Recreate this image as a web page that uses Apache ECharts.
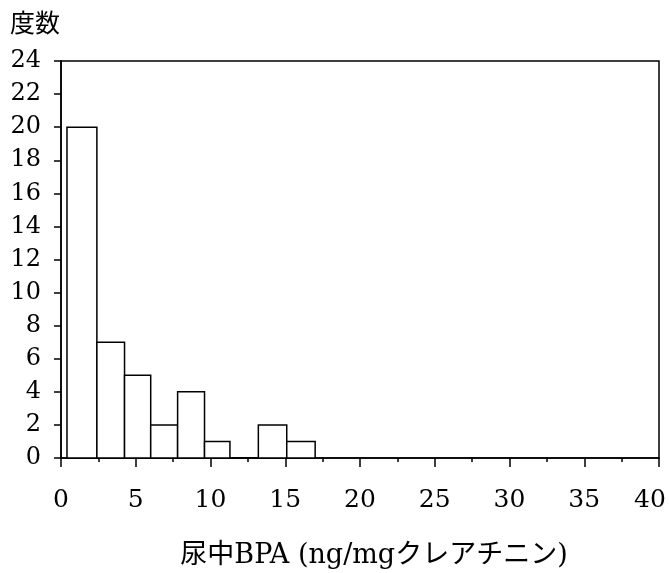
<!DOCTYPE html>
<html>
<head>
<meta charset="utf-8">
<script src="https://cdn.jsdelivr.net/npm/echarts@6/dist/echarts.min.js"></script>
<style>
  html, body { margin: 0; padding: 0; background: #fff; }
  #chart { width: 669px; height: 573px; }
</style>
</head>
<body>
<div id="chart"></div>
<script>
// histogram bins (bin edges in ng/mg creatinine)
var binStart = [0.4, 2.4, 4.25, 6.0, 7.8, 9.6, 11.3, 13.2, 15.1];
var binEnd   = [2.4, 4.25, 6.0, 7.8, 9.6, 11.3, 13.2, 15.1, 17.0];
var counts   = [20, 7, 5, 2, 4, 1, 0, 2, 1];

var serif = '"DejaVu Serif", "Noto Sans CJK JP", serif';

var data = [];
for (var i = 0; i < counts.length; i++) {
  data.push([binStart[i], binEnd[i], counts[i]]);
}

function renderBin(params, api) {
  var p0 = api.coord([api.value(0), api.value(2)]);
  var p1 = api.coord([api.value(1), 0]);
  return {
    type: 'rect',
    shape: { x: p0[0], y: p0[1], width: p1[0] - p0[0], height: p1[1] - p0[1] },
    style: { fill: '#fff', stroke: '#000', lineWidth: 1.5 }
  };
}

var chart = echarts.init(document.getElementById('chart'));
chart.setOption({
  animation: false,
  backgroundColor: '#fff',
  graphic: [{
    type: 'text',
    left: 10,
    top: 10,
    style: { text: '度数', fill: '#000', font: '25px "Noto Sans CJK JP"' }
  }],
  grid: {
    left: 61, right: 10, top: 61, bottom: 115,
    outerBoundsMode: 'none',
    show: true, borderColor: '#000', borderWidth: 1.5, backgroundColor: 'transparent'
  },
  xAxis: {
    type: 'value',
    min: 0, max: 40, interval: 5,
    name: '尿中BPA (ng/mgクレアチニン)',
    nameLocation: 'middle',
    nameGap: 84,
    nameTextStyle: { color: '#000', fontSize: 27, fontFamily: serif, padding: [0, 0, 0, 28] },
    axisLine: { lineStyle: { color: '#000', width: 1.5 } },
    axisTick: { length: 9, lineStyle: { color: '#000', width: 1.5 } },
    minorTick: { show: true, splitNumber: 2, length: 4, lineStyle: { color: '#000', width: 1.5 } },
    axisLabel: {
      color: '#000', fontSize: 25, fontFamily: serif, margin: 30,
      // last label sits a bit left of its tick so it stays inside the picture
      formatter: function (v) { return v === 40 ? '{r|40}' : String(v); },
      rich: { r: { color: '#000', fontSize: 25, fontFamily: serif, padding: [0, 18, 0, 0] } }
    },
    splitLine: { show: false }
  },
  yAxis: {
    type: 'value',
    min: 0, max: 24, interval: 2,
    axisLine: { show: true, lineStyle: { color: '#000', width: 1.5 } },
    axisTick: { show: true, length: 7, lineStyle: { color: '#000', width: 1.5 } },
    axisLabel: { color: '#000', fontSize: 24, fontFamily: serif, margin: 20 },
    splitLine: { show: false }
  },
  series: [{
    type: 'custom',
    renderItem: renderBin,
    encode: { x: [0, 1], y: 2 },
    data: data
  }]
});
</script>
</body>
</html>
